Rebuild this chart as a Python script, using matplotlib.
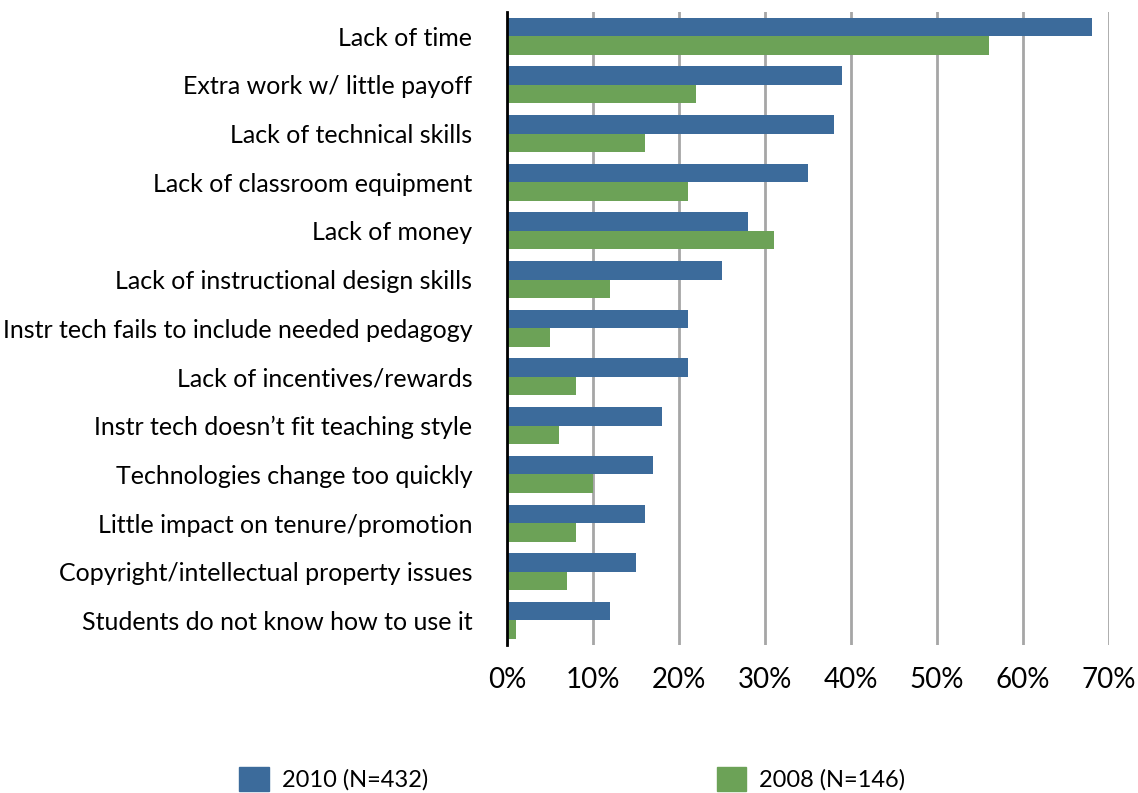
import matplotlib.pyplot as plt
import numpy as np
from matplotlib.patches import Patch
from matplotlib.ticker import PercentFormatter

plt.rcParams['font.family'] = ['Lato', 'DejaVu Sans']

# barriers, listed top to bottom
barriers = [
    "Lack of time",
    "Extra work w/ little payoff",
    "Lack of technical skills",
    "Lack of classroom equipment",
    "Lack of money",
    "Lack of instructional design skills",
    "Instr tech fails to include needed pedagogy",
    "Lack of incentives/rewards",
    "Instr tech doesn\u2019t fit teaching style",
    "Technologies change too quickly",
    "Little impact on tenure/promotion",
    "Copyright/intellectual property issues",
    "Students do not know how to use it",
]
pct_2010 = [68, 39, 38, 35, 28, 25, 21, 21, 18, 17, 16, 15, 12]
pct_2008 = [56, 22, 16, 21, 31, 12, 5, 8, 6, 10, 8, 7, 1]

blue = '#3C6B9B'
green = '#6CA257'

fig = plt.figure(figsize=(11.38, 7.93), dpi=100)
ax = fig.add_axes([0.4455, 0.187, 0.529, 0.798])

y = np.arange(len(barriers))
h = 0.38
ax.barh(y - h / 2, pct_2010, height=h, color=blue, zorder=3)
ax.barh(y + h / 2, pct_2008, height=h, color=green, zorder=3)

ax.set_ylim(len(barriers) - 0.5, -0.5)
ax.set_xlim(0, 70)
ax.set_xticks(range(0, 71, 10))
ax.xaxis.set_major_formatter(PercentFormatter(decimals=0))
ax.set_yticks(y)
ax.set_yticklabels(barriers)

ax.grid(axis='x', color='#A6A6A6', linewidth=2, zorder=0)
for side in ['top', 'right', 'bottom']:
    ax.spines[side].set_visible(False)
ax.spines['left'].set_linewidth(2)
ax.spines['left'].set_zorder(4)
ax.tick_params(axis='both', length=0, colors='black')
ax.tick_params(axis='x', pad=16, labelsize=20)
ax.tick_params(axis='y', pad=25, labelsize=18)

handles = [Patch(color=blue, label='2010 (N=432)'),
           Patch(color=green, label='2008 (N=146)')]
fig.legend(handles=handles, loc='lower center', bbox_to_anchor=(0.503, -0.024),
           ncol=2, frameon=False, fontsize=17, handlelength=1.27, handleheight=1.15,
           handletextpad=0.55, columnspacing=12.2)

fig.savefig('out.png', dpi=100)
